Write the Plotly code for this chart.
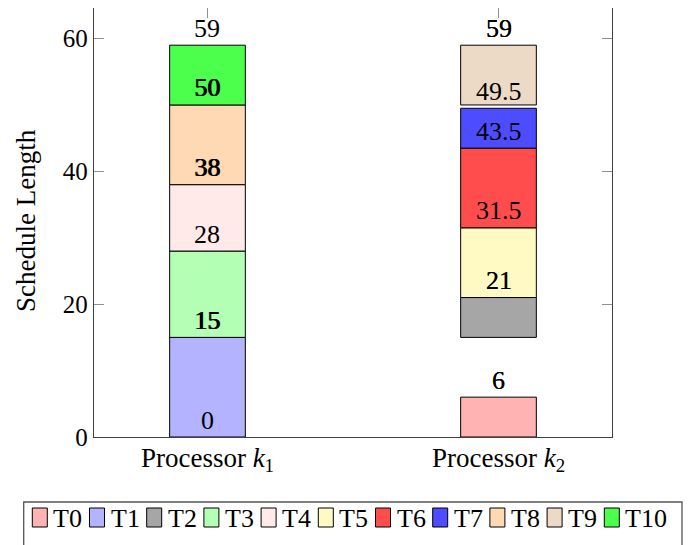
import plotly.graph_objects as go

# ---------------- data ----------------
processors = ["Processor <i>k</i><sub>1</sub>", "Processor <i>k</i><sub>2</sub>"]
tasks = ["T0", "T1", "T2", "T3", "T4", "T5", "T6", "T7", "T8", "T9", "T10"]
task_processor = [1, 0, 1, 0, 0, 1, 1, 1, 0, 1, 0]
task_start = [0, 0, 15, 15, 28, 21, 31.5, 43.5, 38, 50, 50]
task_end = [6, 15, 21, 28, 38, 31.5, 43.5, 49.5, 50, 59, 59]
task_colors = ["#FFB3B3", "#B3B3FF", "#A6A6A6", "#B3FFB3", "#FFE9E9", "#FFF9C4",
               "#FF4D4D", "#4D4DFF", "#FFD9B3", "#ECD9C6", "#4DFF4D"]
k1_labels = [0, 15, 28, 38, 50, 59]
k2_labels = [6, 21, 31.5, 43.5, 49.5, 59]
y_ticks = [0, 20, 40, 60]

# labels that appear drawn twice (slightly heavier) in the original
k1_heavy = [False, True, False, True, True, False]
k2_heavy = [True, True, False, False, False, True]

FONT = "Liberation Serif"
OFF = 8  # page body margin
W, H = 693 - OFF, 545 - OFF
ML, MR, MT, MB = 86, 81, 0, 108
PW, PH = W - ML - MR, H - MT - MB


def px_x(px):
    return (px - OFF - ML) / PW


def px_y(py):
    return (H - MB - (py - OFF)) / PH


fig = go.Figure()
for i, t in enumerate(tasks):
    fig.add_trace(go.Bar(
        x=[processors[task_processor[i]]],
        y=[task_end[i] - task_start[i]],
        base=[task_start[i]],
        name=t,
        width=0.26,
        marker=dict(color=task_colors[i], line=dict(color="black", width=1)),
        showlegend=False,
        hoverinfo="skip",
    ))

annotations = []
for proc, labels, heavy in zip(processors, [k1_labels, k2_labels], [k1_heavy, k2_heavy]):
    for v, hv in zip(labels, heavy):
        shifts = [0, 0.4] if hv else [0]
        for s in shifts:
            annotations.append(dict(
                x=proc, y=v, xref="x", yref="y", text=f"{v:g}", showarrow=False,
                yanchor="middle", yshift=17, xshift=s,
                font=dict(family=FONT, size=26, color="black"),
            ))

# y-axis title as annotation (rotated)
annotations.append(dict(x=px_x(26), y=px_y(221), xref="paper", yref="paper", text="Schedule Length",
                        textangle=-90, showarrow=False, xanchor="center", yanchor="middle",
                        font=dict(family=FONT, size=27, color="black")))

# manual legend
shapes = [dict(type="rect", xref="paper", yref="paper",
               x0=px_x(23.7), x1=px_x(682), y0=px_y(560), y1=px_y(502),
               line=dict(color="#555555", width=1.3), fillcolor="white", layer="above")]
for i, t in enumerate(tasks):
    x0 = 32.3 + 57.2 * i
    shapes.append(dict(type="rect", xref="paper", yref="paper",
                       x0=px_x(x0), x1=px_x(x0 + 15), y0=px_y(527), y1=px_y(508),
                       line=dict(color="black", width=1), fillcolor=task_colors[i], layer="above"))
    annotations.append(dict(x=px_x(x0 + 19), y=px_y(518), xref="paper", yref="paper",
                            text=t, showarrow=False, xanchor="left", yanchor="middle",
                            font=dict(family=FONT, size=26, color="black")))

fig.update_layout(
    template="none",
    width=W, height=H,
    margin=dict(l=ML, r=MR, t=MT, b=MB, pad=0, autoexpand=False),
    paper_bgcolor="white", plot_bgcolor="white",
    barmode="overlay",
    showlegend=False,
    font=dict(family=FONT, size=25, color="black"),
    annotations=annotations,
    shapes=shapes,
)
fig.update_xaxes(
    type="category", categoryorder="array", categoryarray=processors,
    range=[-0.39, 1.39], automargin=False,
    showline=True, linecolor="#404040", linewidth=1.3, mirror="ticks",
    ticks="inside", ticklen=10, tickcolor="#909090", tickwidth=1,
    showgrid=False, zeroline=False, layer="below traces",
    ticklabelstandoff=-4,
    tickfont=dict(family=FONT, size=27, color="black"),
)
fig.update_yaxes(
    range=[0, 64.6], tickvals=y_ticks, automargin=False,
    showline=True, linecolor="#404040", linewidth=1.3, mirror="ticks",
    ticks="inside", ticklen=10, tickcolor="#909090", tickwidth=1,
    showgrid=False, zeroline=False, layer="below traces",
    tickfont=dict(family=FONT, size=25, color="black"),
)

fig.write_html("out.html")
